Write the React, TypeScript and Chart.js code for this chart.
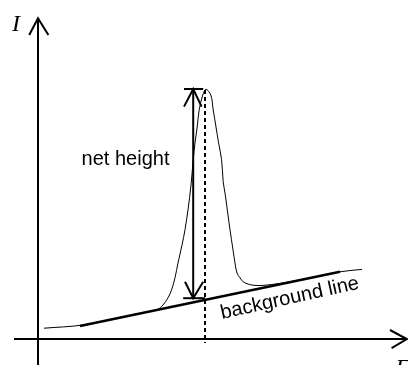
import React, { useEffect, useRef } from "react";
import { Chart, registerables } from "chart.js";

Chart.register(...registerables);

// Axis ranges (arbitrary units: E horizontal, I vertical)
const E_MIN = -0.95;
const E_MAX = 9.25;
const I_MIN = -0.65;
const I_MAX = 8.475;

// Measured spectrum (peak on a sloped background)
const signalE = [
  0.15, 1.125, 2.05, 2.8, 3.0, 3.125, 3.25, 3.34, 3.425, 3.5, 3.6, 3.675, 3.75,
  3.825, 3.88, 3.925, 3.98, 4.03, 4.12, 4.2, 4.32, 4.38, 4.45, 4.51, 4.59,
  4.63, 4.675, 4.75, 4.8, 4.875, 4.925, 4.975, 5.05, 5.13, 5.26, 5.425, 5.625,
  6.05, 6.55, 7.55, 8.1,
];
const signalI = [
  0.27, 0.35, 0.54, 0.69, 0.74, 0.85, 1.03, 1.23, 1.53, 1.9, 2.35, 2.73, 3.23,
  3.85, 4.48, 4.9, 5.3, 5.73, 6.1, 6.24, 6.1, 5.73, 5.3, 4.93, 4.48, 3.93,
  3.65, 3.1, 2.73, 2.23, 1.9, 1.65, 1.53, 1.43, 1.37, 1.34, 1.34, 1.39, 1.48,
  1.68, 1.74,
];

// Background line
const backgroundE = [1.05, 7.55];
const backgroundI = [0.325, 1.68];

// Axes with arrowheads
const yAxisE = [0, 0];
const yAxisI = [-0.65, 8.02];
const yArrowE = [-0.22, 0, 0.26];
const yArrowI = [7.6, 8.02, 7.6];
const xAxisE = [-0.6, 9.22];
const xAxisI = [0, 0];
const xArrowE = [8.8, 9.22, 8.84];
const xArrowI = [0.225, 0, -0.23];

// Net height double arrow
const netShaftE = [3.88, 3.88];
const netShaftI = [1.02, 6.25];
const netTopCapE = [3.65, 4.13];
const netTopCapI = [6.25, 6.25];
const netTopHeadE = [3.65, 3.88, 4.09];
const netTopHeadI = [5.81, 6.25, 5.81];
const netBottomCapE = [3.63, 4.175];
const netBottomCapI = [1.02, 1.02];
const netBottomHeadE = [3.675, 3.88, 4.13];
const netBottomHeadI = [1.43, 1.02, 1.43];

// Peak position marker (dashed)
const peakMarkE = [4.175, 4.175];
const peakMarkI = [6.225, -0.1];

// Text labels (anchor in data units)
const labelTexts = ["I", "E", "net height", "background line"];
const labelE = [-0.65, 8.93, 1.09, 4.6];
const labelI = [7.71, -0.9, 4.35, 0.5];

const zip = (xs: number[], ys: number[]) => xs.map((x, i) => ({ x, y: ys[i] }));

const seg = (xs: number[], ys: number[], width: number, dash: number[] = [], tension = 0) => ({
  data: zip(xs, ys),
  borderColor: "#000",
  backgroundColor: "#000",
  borderWidth: width,
  borderDash: dash,
  pointRadius: 0,
  fill: false,
  tension,
  borderJoinStyle: "miter",
  clip: false,
});

const labelPlugin = {
  id: "labels",
  afterDatasetsDraw(chart: any) {
    const ctx = chart.ctx;
    const xs = chart.scales.x;
    const ys = chart.scales.y;
    const px = (v: number) => xs.getPixelForValue(v);
    const py = (v: number) => ys.getPixelForValue(v);
    ctx.save();
    ctx.fillStyle = "#000";
    ctx.textBaseline = "alphabetic";
    ctx.textAlign = "left";
    // axis symbols
    ctx.font = "italic 24px 'Liberation Serif', serif";
    ctx.fillText(labelTexts[0], px(labelE[0]), py(labelI[0]));
    ctx.fillText(labelTexts[1], px(labelE[1]), py(labelI[1]));
    // net height
    ctx.font = "20px 'Liberation Sans', Arial, sans-serif";
    ctx.fillText(labelTexts[2], px(labelE[2]), py(labelI[2]));
    // background line (rotated along the background)
    const ang = Math.atan2(
      py(backgroundI[1]) - py(backgroundI[0]),
      px(backgroundE[1]) - px(backgroundE[0])
    );
    ctx.translate(px(labelE[3]), py(labelI[3]));
    ctx.rotate(ang * 1.06);
    ctx.fillText(labelTexts[3], 0, 0);
    ctx.restore();
  },
};

export default function App() {
  const ref = useRef<HTMLCanvasElement | null>(null);
  useEffect(() => {
    document.body.style.margin = "0";
    if (!ref.current) return;
    const chart = new Chart(ref.current, {
      type: "line",
      data: {
        datasets: [
          seg(yAxisE, yAxisI, 2),
          seg(yArrowE, yArrowI, 2),
          seg(xAxisE, xAxisI, 2),
          seg(xArrowE, xArrowI, 2),
          seg(signalE, signalI, 1, [], 0.35),
          seg(backgroundE, backgroundI, 2.5),
          seg(peakMarkE, peakMarkI, 2, [4, 3]),
          seg(netShaftE, netShaftI, 2),
          seg(netTopCapE, netTopCapI, 2),
          seg(netTopHeadE, netTopHeadI, 2),
          seg(netBottomCapE, netBottomCapI, 2),
          seg(netBottomHeadE, netBottomHeadI, 2),
        ] as any,
      },
      options: {
        animation: false,
        responsive: false,
        maintainAspectRatio: false,
        layout: { padding: 0 },
        plugins: { legend: { display: false }, tooltip: { enabled: false } },
        scales: {
          x: { type: "linear", min: E_MIN, max: E_MAX, display: false },
          y: { type: "linear", min: I_MIN, max: I_MAX, display: false },
        },
      },
      plugins: [labelPlugin],
    });
    return () => chart.destroy();
  }, []);
  return (
    <div style={{ width: 408, height: 365, background: "#fff" }}>
      <canvas ref={ref} width={408} height={365} style={{ display: "block" }} />
    </div>
  );
}
